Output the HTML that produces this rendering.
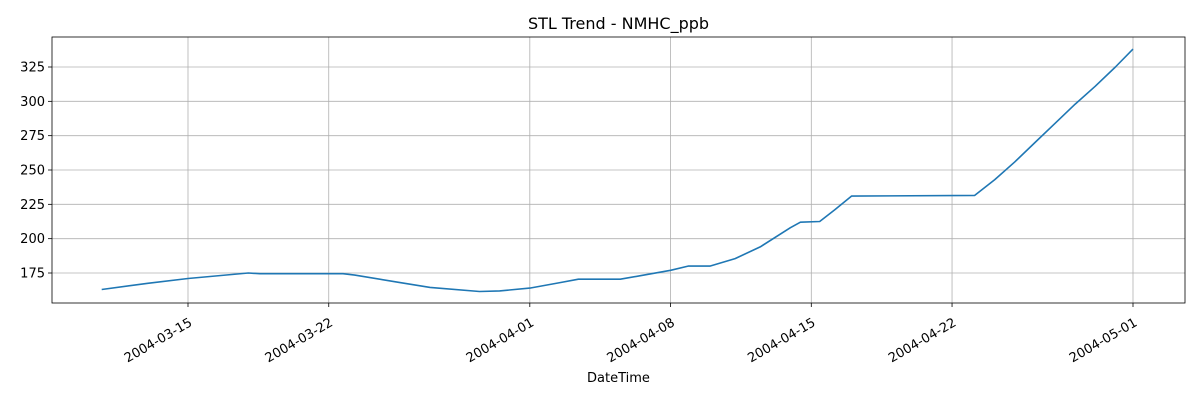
<!DOCTYPE html>
<html><head><meta charset="utf-8"><style>
body{margin:0;background:#fff;}
svg{display:block;font-family:"DejaVu Sans","Liberation Sans",sans-serif;}
</style></head><body>
<svg id="chart" width="1200" height="400"></svg>
<script>
const dates = ["2004-03-10T17:00","2004-03-13T00:00","2004-03-15T00:00","2004-03-18T00:00","2004-03-18T14:00","2004-03-22T17:00","2004-03-23T07:00","2004-03-25T13:00","2004-03-27T01:00","2004-03-29T12:00","2004-03-30T12:00","2004-04-01T00:00","2004-04-02T12:00","2004-04-03T10:00","2004-04-05T12:00","2004-04-06T12:00","2004-04-08T00:00","2004-04-08T21:00","2004-04-09T23:00","2004-04-11T05:00","2004-04-12T11:00","2004-04-13T23:00","2004-04-14T11:00","2004-04-15T10:00","2004-04-16T04:00","2004-04-17T00:00","2004-04-23T03:00","2004-04-24T03:00","2004-04-25T03:00","2004-04-26T03:00","2004-04-27T03:00","2004-04-28T03:00","2004-04-29T03:00","2004-04-30T03:00","2004-05-01T00:00"];
const values = [163,167.5,171,175,174.5,174.5,173.5,168,164.5,161.5,162,164,168,170.5,170.5,173,177,180,180,185.5,194,208,212,212.5,221,231,231.5,243,256,270,284,298,311,325,338];
const yTicks = [175,200,225,250,275,300,325];
const xTickLabels = ["2004-03-15","2004-03-22","2004-04-01","2004-04-08","2004-04-15","2004-04-22","2004-05-01"];

const NS="http://www.w3.org/2000/svg";
const svg=document.getElementById('chart');
const L=52,R=1185,T=37,B=303;
const t0=Date.UTC(2004,2,15), dayPx=(1133-188)/47;
function tms(s){const [d,h]=s.split('T');const [Y,M,D]=d.split('-').map(Number);const [hh,mm]=(h||"00:00").split(':').map(Number);return Date.UTC(Y,M-1,D,hh,mm);}
function xs(s){return 188+(tms(s)-t0)/86400000*dayPx;}
function ys(v){return 273-(v-175)*(206/150);}
function el(tag,attrs,parent){const e=document.createElementNS(NS,tag);for(const k in attrs)e.setAttribute(k,attrs[k]);(parent||svg).appendChild(e);return e;}

const grid=el('g',{});


yTicks.forEach(v=>{
  const y=ys(v);
  el('line',{x1:L,x2:R,y1:y,y2:y,stroke:'#b0b0b0','stroke-width':0.8},grid);
  el('line',{x1:L-4,x2:L,y1:y,y2:y,stroke:'#000','stroke-width':0.8});
  const t=el('text',{x:L-7,y:y+4.5,'text-anchor':'end','font-size':13,fill:'#000'});
  t.textContent=v;
  
  
});
xTickLabels.forEach(s=>{
  const x=xs(s+"T00:00");
  el('line',{x1:x,x2:x,y1:T,y2:B,stroke:'#b0b0b0','stroke-width':0.8},grid);
  el('line',{x1:x,x2:x,y1:B,y2:B+4,stroke:'#000','stroke-width':0.8});
  const ax=x+5, ay=B+22;
  const t=el('text',{x:ax,y:ay,'text-anchor':'end','font-size':13,fill:'#000',transform:`rotate(-30 ${ax} ${ay})`});
  t.textContent=s;
  
  
});
const line=el('polyline',{points:dates.map((d,i)=>xs(d).toFixed(1)+','+ys(values[i]).toFixed(1)).join(' '),fill:'none',stroke:'#1f77b4','stroke-width':1.6,'stroke-linejoin':'round'});


const frame=el('rect',{x:L,y:T,width:R-L,height:B-T,fill:'none',stroke:'#000','stroke-width':0.8});


const title=el('text',{x:(L+R)/2,y:29,'text-anchor':'middle','font-size':16,fill:'#000'});
title.textContent='STL Trend - NMHC_ppb';


const xl=el('text',{x:(L+R)/2,y:382,'text-anchor':'middle','font-size':13,fill:'#000'});
xl.textContent='DateTime';


</script>
</body></html>
